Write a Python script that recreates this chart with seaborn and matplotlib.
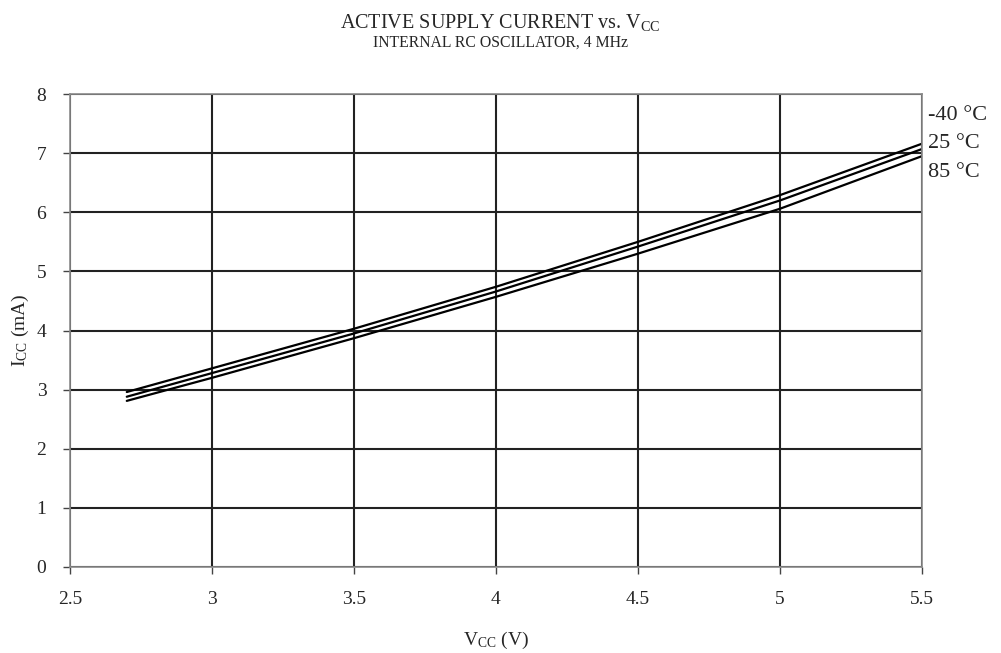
import matplotlib
matplotlib.use("Agg")
import matplotlib.pyplot as plt
import seaborn as sns
import pandas as pd

vcc = [2.7, 3.0, 3.5, 4.0, 4.5, 5.0, 5.5]
icc_m40 = [2.96, 3.36, 4.03, 4.74, 5.50, 6.29, 7.16]
icc_25 = [2.88, 3.28, 3.95, 4.66, 5.42, 6.20, 7.07]
icc_85 = [2.81, 3.20, 3.87, 4.57, 5.30, 6.06, 6.95]
temps = ["-40 °C", "25 °C", "85 °C"]

df = pd.DataFrame({
    "Vcc": vcc * 3,
    "Icc": icc_m40 + icc_25 + icc_85,
    "Temp": [temps[0]] * 7 + [temps[1]] * 7 + [temps[2]] * 7,
})

sns.set_style("white")
plt.rcParams["font.family"] = ["Liberation Serif", "DejaVu Serif"]
plt.rcParams["mathtext.fontset"] = "custom"
plt.rcParams["mathtext.rm"] = "Liberation Serif"
plt.rcParams["mathtext.it"] = "Liberation Serif:italic"

fig = plt.figure(figsize=(10.01, 6.53), dpi=100)
ax = fig.add_axes([0.0699, 0.1317, 0.8512, 0.7243])

sns.lineplot(data=df, x="Vcc", y="Icc", hue="Temp", hue_order=temps,
             palette=["black"] * 3, linewidth=1.6, legend=False, ax=ax)

ax.set_xlim(2.5, 5.5)
ax.set_ylim(0, 8)
ax.set_xticks([2.5, 3, 3.5, 4, 4.5, 5, 5.5])
ax.set_xticklabels(["2.5", "3", "3.5", "4", "4.5", "5", "5.5"])
ax.set_yticks(range(0, 9))
ax.grid(True, color="#222222", linewidth=1.5)
ax.set_axisbelow(True)
for s in ax.spines.values():
    s.set_color("#8a8a8a")
    s.set_linewidth(1.2)
ax.tick_params(axis="both", direction="out", length=5, width=1, color="#444444",
               labelsize=14, bottom=True, left=True)
ax.tick_params(axis="x", pad=12)
ax.tick_params(axis="y", pad=12)

ax.set_xlabel(r"V$_{\mathrm{CC}}$ (V)", fontsize=14, labelpad=16)
ax.set_ylabel(r"I$_{\mathrm{CC}}$ (mA)", fontsize=14, labelpad=4)

# curve labels at right edge
for t, yy in zip(temps, [7.63, 7.16, 6.67]):
    ax.text(5.52, yy, t, fontsize=16, va="center", ha="left", clip_on=False)

fig.text(0.5, 0.966, r"ACTIVE SUPPLY CURRENT vs. V$_{\mathrm{CC}}$", ha="center",
         va="center", fontsize=14.5)
fig.text(0.5, 0.934, "INTERNAL RC OSCILLATOR, 4 MHz", ha="center", va="center",
         fontsize=11.3)

plt.savefig("out.png", dpi=100)
